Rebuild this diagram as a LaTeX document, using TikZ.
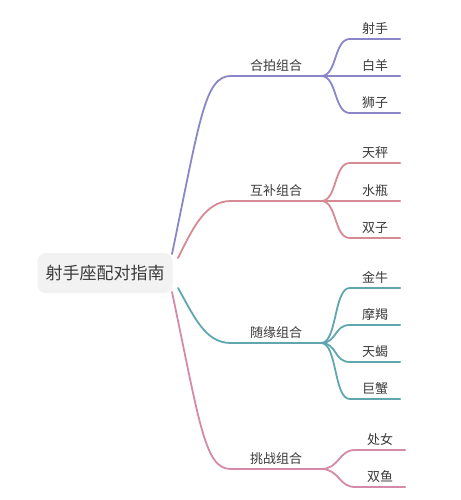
\documentclass[tikz,border=0pt]{standalone}
\usepackage{fontspec}
\setmainfont{Noto Sans CJK SC}
\usepackage{xcolor}
\usepackage{tikz}
\usetikzlibrary{positioning}

\definecolor{txt}{HTML}{3A3A3A}
\definecolor{c_hp}{HTML}{8A86C8}
\definecolor{c_hb}{HTML}{D68A94}
\definecolor{c_sy}{HTML}{5FA6AE}
\definecolor{c_tz}{HTML}{D48AA8}

\tikzset{
 root/.style={fill=black!5,rounded corners=8pt,minimum width=135pt,minimum height=40pt,
 text=txt,font=\fontsize{17}{17}\selectfont},
 branch/.style={minimum width=90pt,inner sep=4pt,anchor=south,text=txt,
 font=\fontsize{13}{13}\selectfont},
 leaf/.style={minimum width=50pt,inner sep=4pt,anchor=south,text=txt,
 font=\fontsize{13}{13}\selectfont},
 link/.style={line width=1.8pt,line cap=round}
}

\begin{document}
\begin{tikzpicture}[x=1pt,y=-1pt]
 \useasboundingbox (0,0) rectangle (460,500);
 \node[root] (r) at (105,273) {射手座配对指南};

 \coordinate (s_hp) at (172,254);
 \coordinate (s_hb) at (178,258);
 \coordinate (s_sy) at (178,288);
 \coordinate (s_tz) at (172,292);

 \node[branch] (b_hp) at (276,76) {合拍组合};
 \node[branch] (b_hb) at (276,201) {互补组合};
 \node[branch] (b_sy) at (276,343) {随缘组合};
 \node[branch] (b_tz) at (276,469) {挑战组合};

 \node[leaf] (l_11) at (375,39) {射手};
 \node[leaf] (l_12) at (375,76) {白羊};
 \node[leaf] (l_13) at (375,113) {狮子};

 \node[leaf] (l_21) at (375,163) {天秤};
 \node[leaf] (l_22) at (375,201) {水瓶};
 \node[leaf] (l_23) at (375,238) {双子};

 \node[leaf] (l_31) at (375,288) {金牛};
 \node[leaf] (l_32) at (375,325) {摩羯};
 \node[leaf] (l_33) at (375,362) {天蝎};
 \node[leaf] (l_34) at (375,399) {巨蟹};

 \node[leaf] (l_41) at (380,450) {处女};
 \node[leaf] (l_42) at (380,487) {双鱼};

 % root to branches
 \draw[link,c_hp] (s_hp) .. controls +(28,-135) and +(-26,0) .. (b_hp.south west) -- (b_hp.south east);
 \draw[link,c_hb] (s_hb) .. controls +(14,-28) and +(-26,0) .. (b_hb.south west) -- (b_hb.south east);
 \draw[link,c_sy] (s_sy) .. controls +(16,28) and +(-26,0) .. (b_sy.south west) -- (b_sy.south east);
 \draw[link,c_tz] (s_tz) .. controls +(28,133) and +(-26,0) .. (b_tz.south west) -- (b_tz.south east);

 % branches to leaves
 \foreach \l in {l_11,l_12,l_13}
  \draw[link,c_hp] (b_hp.south east) .. controls +(16,0) and +(-16,0) .. (\l.south west) -- (\l.south east);
 \foreach \l in {l_21,l_22,l_23}
  \draw[link,c_hb] (b_hb.south east) .. controls +(16,0) and +(-16,0) .. (\l.south west) -- (\l.south east);
 \foreach \l in {l_31,l_32,l_33,l_34}
  \draw[link,c_sy] (b_sy.south east) .. controls +(16,0) and +(-16,0) .. (\l.south west) -- (\l.south east);
 \foreach \l in {l_41,l_42}
  \draw[link,c_tz] (b_tz.south east) .. controls +(18,0) and +(-16,0) .. (\l.south west) -- (\l.south east);
\end{tikzpicture}
\end{document}
